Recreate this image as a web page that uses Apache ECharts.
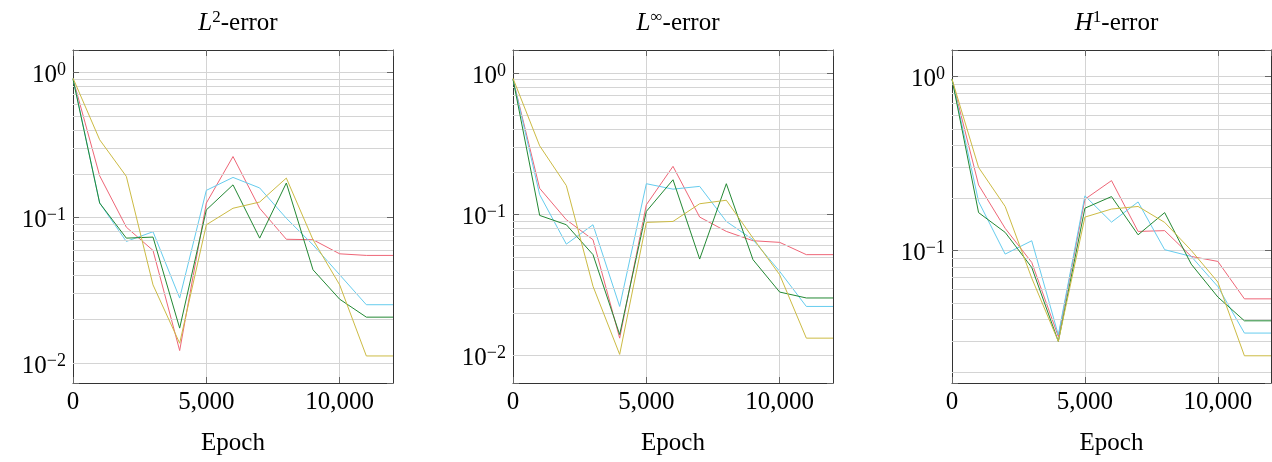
<!DOCTYPE html>
<html><head><meta charset="utf-8">
<script src="https://cdn.jsdelivr.net/npm/echarts@6/dist/echarts.min.js"></script>
<style>html,body{margin:0;padding:0;background:#fff}#c{width:1272px;height:462px}</style>
</head><body><div id="c"></div><script>
// ---- data ----
const epochs = [0,1000,2000,3000,4000,5000,6000,7000,8000,9000,10000,11000,12000];
const seriesColors = ['#EE6677','#66CCEE','#228833','#CCBB44'];

const l2Red    = [0.90,0.194,0.086,0.0595,0.0122,0.126,0.263,0.116,0.071,0.0705,0.0564,0.055,0.055];
const l2Cyan   = [0.91,0.126,0.0686,0.080,0.028,0.154,0.189,0.160,0.099,0.065,0.0405,0.0252,0.0252];
const l2Green  = [0.895,0.126,0.0723,0.0735,0.0174,0.113,0.168,0.0723,0.173,0.0438,0.0275,0.0207,0.0207];
const l2Yellow = [0.91,0.343,0.192,0.0345,0.0137,0.0893,0.116,0.128,0.187,0.0705,0.0345,0.0112,0.0112];

const linfRed    = [0.907,0.153,0.0917,0.0662,0.0133,0.117,0.219,0.0958,0.0758,0.0651,0.0634,0.0519,0.0519];
const linfCyan   = [0.907,0.138,0.0616,0.0845,0.0223,0.165,0.151,0.158,0.0892,0.0662,0.0395,0.0223,0.0223];
const linfGreen  = [0.907,0.0984,0.0845,0.0519,0.0141,0.105,0.176,0.0483,0.165,0.0478,0.0282,0.0256,0.0256];
const linfYellow = [0.92,0.306,0.160,0.031,0.0102,0.0878,0.0892,0.119,0.126,0.068,0.0374,0.0133,0.0133];

const h1Red    = [0.965,0.238,0.134,0.0853,0.032,0.197,0.252,0.1286,0.130,0.0924,0.0865,0.0527,0.0527];
const h1Cyan   = [0.965,0.191,0.0953,0.1137,0.0327,0.206,0.1455,0.19,0.101,0.0924,0.062,0.0335,0.0335];
const h1Green  = [0.965,0.165,0.127,0.0798,0.030,0.175,0.204,0.123,0.165,0.0834,0.054,0.0394,0.0394];
const h1Yellow = [0.965,0.30,0.179,0.0693,0.030,0.1555,0.173,0.179,0.145,0.100,0.0658,0.0248,0.0248];

const panelTitles = [['L','2'],['L','∞'],['H','1']];
const xLabel = 'Epoch';
const yRanges = [[0.0073,1.42],[0.0064,1.46],[0.0173,1.42]];
const panelData = [
  [l2Red,l2Cyan,l2Green,l2Yellow],
  [linfRed,linfCyan,linfGreen,linfYellow],
  [h1Red,h1Cyan,h1Green,h1Yellow]
];

// ---- layout ----
const FONT = 'Liberation Serif';
const grids = [
  {left:73, top:50, width:320, height:333},
  {left:513, top:50, width:320, height:333},
  {left:952, top:50, width:319, height:333}
];
const gridColor = '#d4d4d4';
const tickColor = '#666';
const axisColor = '#333';

function minorValues(min,max){
  const out=[];
  for(let k=-4;k<=1;k++){
    for(let m=2;m<=9;m++){
      const v=m*Math.pow(10,k);
      if(v>min && v<max) out.push(+v.toPrecision(3));
    }
  }
  return out;
}
function isPow10(v){const e=Math.log10(v);return Math.abs(e-Math.round(e))<1e-6;}
function fmtThousands(v){return String(v).replace(/\B(?=(\d{3})+(?!\d))/g,',');}

const option = {
  animation:false,
  backgroundColor:'#fff',
  title: grids.map((g,i)=>({
    text:'{i|'+panelTitles[i][0]+'}{s|'+panelTitles[i][1]+'}{n|-error}',
    left:g.left+g.width/2, top:4, textAlign:'center',
    textStyle:{fontWeight:'normal',rich:{
      i:{fontFamily:FONT,fontStyle:'italic',fontWeight:'normal',fontSize:25,color:'#000',lineHeight:28},
      s:{fontFamily:FONT,fontWeight:'normal',fontSize:17,color:'#000',verticalAlign:'top',lineHeight:9},
      n:{fontFamily:FONT,fontWeight:'normal',fontSize:25,color:'#000',lineHeight:28}
    }}
  })),
  grid: grids.map(g=>Object.assign({containLabel:false},g)),
  xAxis: [],
  yAxis: [],
  series: []
};

grids.forEach((g,i)=>{
  // bottom x axis
  option.xAxis.push({
    type:'value', gridIndex:i, min:0, max:12000, interval:5000, position:'bottom',
    name:xLabel, nameLocation:'middle', nameGap:48,
    nameTextStyle:{fontFamily:FONT,fontSize:25,color:'#000'},
    axisLine:{show:true,onZero:false,lineStyle:{color:axisColor,width:1}},
    axisTick:{show:true,inside:true,length:6,lineStyle:{color:tickColor}},
    axisLabel:{fontFamily:FONT,fontSize:25,color:'#000',margin:7,
      formatter:v=> (v%5000===0? fmtThousands(v):''), showMaxLabel:false},
    splitLine:{show:true,lineStyle:{color:gridColor,width:1}}
  });
  // top x axis (ticks only)
  option.xAxis.push({
    type:'value', gridIndex:i, min:0, max:12000, interval:5000, position:'top',
    axisLine:{show:true,onZero:false,lineStyle:{color:axisColor,width:1}},
    axisTick:{show:true,inside:true,length:6,lineStyle:{color:tickColor}},
    axisLabel:{show:false}, splitLine:{show:false}
  });
  const [ymin,ymax]=yRanges[i];
  option.yAxis.push({
    type:'log', logBase:10, gridIndex:i, min:ymin, max:ymax, position:'left',
    axisLine:{show:true,onZero:false,lineStyle:{color:axisColor,width:1}},
    axisTick:{show:true,inside:true,length:6,lineStyle:{color:tickColor}},
    axisLabel:{margin:7, padding:[6,0,0,0],
      formatter:v=>{ if(!isPow10(v)) return ''; const e=Math.round(Math.log10(v));
        return '{b|10}{s|'+(e<0?'−'+(-e):String(e))+'}'; },
      rich:{
        b:{fontFamily:FONT,fontSize:25,color:'#000',lineHeight:28},
        s:{fontFamily:FONT,fontSize:18,color:'#000',verticalAlign:'top',lineHeight:8}
      }},
    splitLine:{show:true,lineStyle:{color:gridColor,width:1}}
  });
  option.yAxis.push({
    type:'log', logBase:10, gridIndex:i, min:ymin, max:ymax, position:'right',
    axisLine:{show:true,onZero:false,lineStyle:{color:axisColor,width:1}},
    axisTick:{show:true,inside:true,length:6,lineStyle:{color:tickColor}},
    axisLabel:{show:false}, splitLine:{show:false}
  });
  const xi=i*2, yi=i*2;
  // minor grid lines
  option.series.push({
    type:'line', xAxisIndex:xi, yAxisIndex:yi, data:[], z:1, silent:true,
    markLine:{silent:true, symbol:['none','none'], label:{show:false}, animation:false,
      lineStyle:{color:gridColor,width:1,type:'solid'},
      emphasis:{disabled:true},
      data:minorValues(ymin,ymax).map(v=>({yAxis:v}))}
  });
  panelData[i].forEach((vals,k)=>{
    option.series.push({
      type:'line', xAxisIndex:xi, yAxisIndex:yi, z:3+k,
      data:epochs.map((e,j)=>[e,vals[j]]),
      showSymbol:false, symbol:'none',
      lineStyle:{color:seriesColors[k],width:1},
      itemStyle:{color:seriesColors[k]}
    });
  });
});

const chart = echarts.init(document.getElementById('c'), null, {renderer:'canvas'});
chart.setOption(option);
</script></body></html>
